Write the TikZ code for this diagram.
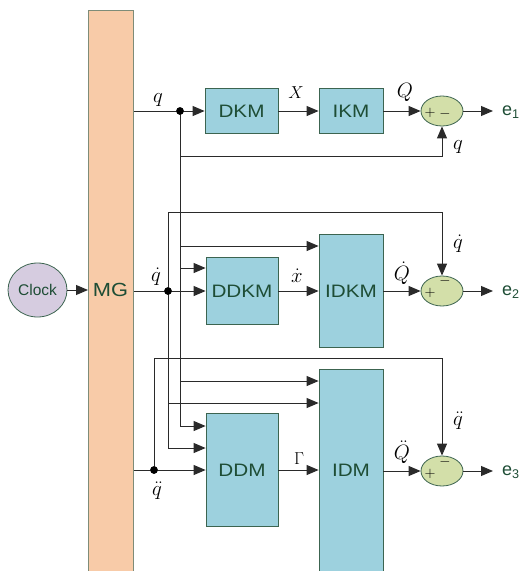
\documentclass[tikz,border=0pt]{standalone}
\usepackage{fontspec}
\setmainfont{Liberation Sans}
\usetikzlibrary{arrows.meta,shapes.geometric}
\definecolor{boxc}{HTML}{9DD1DE}
\definecolor{bordc}{HTML}{3C6450}
\definecolor{txtc}{HTML}{1E4D35}
\definecolor{sumc}{HTML}{D3DFA9}
\definecolor{mgc}{HTML}{F8CBA8}
\definecolor{mgb}{HTML}{7E8C78}
\definecolor{clkc}{HTML}{D6CCE0}
\definecolor{linec}{HTML}{2A2A2A}
\newcommand{\wtxt}[1]{\scalebox{1.15}[1]{#1}}
\begin{document}
\begin{tikzpicture}[x=1pt,y=-1pt,
  blk/.style={draw=bordc, fill=boxc, line width=0.8pt, inner sep=0pt, text=txtc,
    font=\fontsize{18}{20}\selectfont},
  sumn/.style={ellipse, draw=bordc, fill=sumc, line width=0.8pt, inner sep=0pt,
    minimum width=42pt, minimum height=30pt},
  ln/.style={draw=linec, line width=1pt},
  arr/.style={ln, -{Triangle[length=12pt,width=10pt]}},
  dotn/.style={circle, fill=black, inner sep=0pt, minimum size=7.5pt},
  mlab/.style={font=\fontsize{21}{22}\selectfont, inner sep=0pt},
  slab/.style={font=\fontsize{16}{17}\selectfont, inner sep=0pt},
  sgn/.style={font=\fontsize{15}{16}\selectfont, inner sep=0pt},
  elab/.style={font=\fontsize{18}{19}\selectfont, text=txtc, anchor=west, inner sep=0pt},
]
\useasboundingbox (0,0) rectangle (522,571);
% MG bar and clock
\node[draw=mgb, fill=mgc, line width=0.8pt, minimum width=45pt, minimum height=580pt,
      anchor=north west, inner sep=0pt] (mg) at (88,10) {};
\node[text=txtc, font=\fontsize{19}{20}\selectfont] (mgt) at (110.5,290) {\wtxt{MG}};
\node[ellipse, draw=bordc, fill=clkc, line width=0.8pt, minimum width=59pt,
      minimum height=54pt, inner sep=0pt, text=txtc, font=\fontsize{15.5}{16}\selectfont]
      (clock) at (37.5,290) {Clock};
\draw[arr] (clock.east) -- (mg.west |- clock.east);

% blocks
\node[blk, minimum width=73pt, minimum height=45pt] (dkm) at (241.5,111) {\wtxt{DKM}};
\node[blk, minimum width=64pt, minimum height=45pt] (ikm) at (351,111) {\wtxt{IKM}};
\node[blk, minimum width=72pt, minimum height=67pt] (ddkm) at (242,291) {\wtxt{DDKM}};
\node[blk, minimum width=64pt, minimum height=113pt] (idkm) at (351,291) {\wtxt{IDKM}};
\node[blk, minimum width=72pt, minimum height=113pt] (ddm) at (242,470) {\wtxt{DDM}};
\node[blk, minimum width=64pt, minimum height=221pt, anchor=north] (idm) at (351,369) {};
\node[blk, draw=none, fill=none] (idmt) at (351,470) {\wtxt{IDM}};

% summing junctions
\node[sumn] (s1) at (442,111) {};
\node[sumn] (s2) at (442,291) {};
\node[sumn] (s3) at (442,471) {};
\node[sgn] at (430,113) {$+$};
\node[sgn] at (445,114) {$-$};
\node[sgn] at (430,293) {$+$};
\node[sgn] at (445,281) {$-$};
\node[sgn] at (430,474) {$+$};
\node[sgn] at (445,462) {$-$};

% outputs
\coordinate (o1) at (493,111);
\coordinate (o2) at (493,291);
\coordinate (o3) at (493,471);
\node[elab] (e1) at (502,112) {e\textsubscript{1}};
\node[elab] (e2) at (502,292) {e\textsubscript{2}};
\node[elab] (e3) at (502,472) {e\textsubscript{3}};
\draw[arr] (s1.east) -- (o1);
\draw[arr] (s2.east) -- (o2);
\draw[arr] (s3.east) -- (o3);

% dots
\node[dotn] (d1) at (180,111) {};
\node[dotn] (d2) at (168,291) {};
\node[dotn] (d3) at (154,470) {};

% row 1
\draw[ln] (mg.east |- d1) -- (d1.center);
\draw[arr] (d1.center) -- (dkm.west);
\draw[arr] (dkm.east) -- (ikm.west);
\draw[arr] (ikm.east) -- (s1.west);
\draw[arr] (d1.center) |- (442,156) -- (s1.south);
\draw[ln] (d1.center) -- (180,426);
\draw[arr] (180,246) -- (idkm.west |- 0,246);
\draw[arr] (180,268) -- (ddkm.west |- 0,268);
\draw[arr] (180,381) -- (idm.west |- 0,381);
\draw[arr] (180,426) -- (ddm.west |- 0,426);

% row 2
\draw[ln] (mg.east |- d2) -- (d2.center);
\draw[arr] (d2.center) -- (ddkm.west);
\draw[arr] (ddkm.east) -- (idkm.west);
\draw[arr] (idkm.east) -- (s2.west);
\draw[arr] (168,448) -- (168,212) -| (s2.north);
\draw[arr] (168,403) -- (idm.west |- 0,403);
\draw[arr] (168,448) -- (ddm.west |- 0,448);

% row 3
\draw[ln] (mg.east |- d3) -- (d3.center);
\draw[arr] (d3.center) -- (ddm.west);
\draw[arr] (ddm.east) -- (idm.west |- ddm.east);
\draw[arr] (idm.east |- s3.west) -- (s3.west);
\draw[arr] (d3.center) |- (442,358) -- (s3.north);

% redraw dots on top
\node[dotn] at (d1) {};
\node[dotn] at (d2) {};
\node[dotn] at (d3) {};

% signal labels
\node[mlab] (lq1) at (158,100) {$q$};
\node[slab] (lx) at (296,93) {$X$};
\node[mlab] (lQ) at (405,92) {$Q$};
\node[mlab] (lq1b) at (458,147) {$q$};
\node[mlab] (lq2) at (156,277) {$\dot q$};
\node[mlab] (lx2) at (297,276) {$\dot x$};
\node[mlab] (lQ2) at (402,273) {$\dot Q$};
\node[mlab] (lq2b) at (458,244) {$\dot q$};
\node[mlab] (lq3) at (157,491) {$\ddot q$};
\node[slab, font=\fontsize{18}{19}\selectfont] (lG) at (299,459) {$\Gamma$};
\node[mlab] (lQ3) at (402,452) {$\ddot Q$};
\node[mlab] (lq3b) at (458,421) {$\ddot q$};
\end{tikzpicture}
\end{document}
